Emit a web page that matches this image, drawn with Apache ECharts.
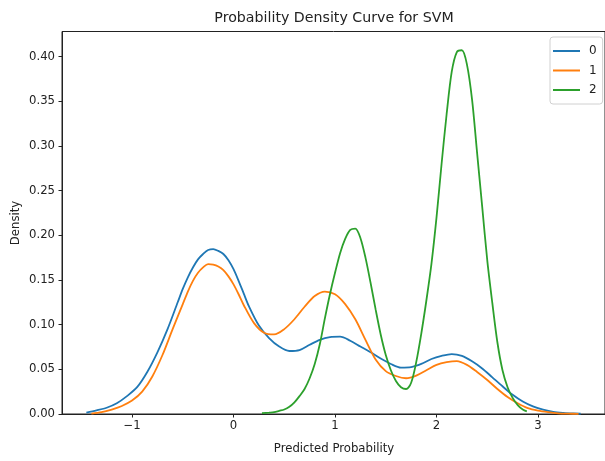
<!DOCTYPE html>
<html>
<head>
<meta charset="utf-8">
<script src="https://cdn.jsdelivr.net/npm/echarts@6/dist/echarts.min.js"></script>
<style>html,body{margin:0;padding:0;background:#fff}#c{width:605px;height:461px}</style>
</head>
<body>
<div id="c"></div>
<script>
var seriesNames = ['0', '1', '2'];
var xTicks = [-1, 0, 1, 2, 3];
var yTicks = [0, 0.05, 0.10, 0.15, 0.20, 0.25, 0.30, 0.35, 0.40];

var x0 = [-1.45,-1.35,-1.25,-1.15,-1.05,-0.95,-0.85,-0.75,-0.65,-0.55,-0.5,-0.45,-0.4,-0.35,-0.3,-0.25,-0.2,-0.15,-0.1,-0.05,0.0,0.05,0.1,0.15,0.25,0.35,0.45,0.55,0.65,0.75,0.85,0.95,1.05,1.15,1.25,1.35,1.45,1.55,1.65,1.75,1.85,1.95,2.05,2.15,2.25,2.35,2.45,2.55,2.65,2.75,2.85,2.95,3.05,3.15,3.25,3.35,3.42];
var y0 = [0.0015,0.004,0.007,0.012,0.020,0.030,0.047,0.069,0.095,0.125,0.140,0.153,0.164,0.173,0.179,0.1835,0.1845,0.1825,0.179,0.172,0.162,0.149,0.135,0.121,0.099,0.085,0.0755,0.0705,0.0715,0.0775,0.083,0.086,0.0865,0.082,0.0755,0.069,0.062,0.056,0.052,0.0525,0.056,0.0615,0.065,0.067,0.065,0.059,0.051,0.041,0.031,0.0215,0.014,0.0085,0.005,0.0025,0.0013,0.0006,0.0003];

var x1 = [-1.4,-1.3,-1.2,-1.1,-1.0,-0.9,-0.8,-0.7,-0.6,-0.5,-0.45,-0.4,-0.35,-0.3,-0.25,-0.2,-0.15,-0.1,-0.05,0.0,0.05,0.1,0.2,0.3,0.4,0.5,0.6,0.7,0.8,0.9,1.0,1.1,1.2,1.3,1.4,1.5,1.6,1.7,1.8,1.9,2.0,2.1,2.2,2.3,2.4,2.5,2.6,2.7,2.8,2.9,3.0,3.1,3.2,3.3,3.4];
var y1 = [0.0005,0.002,0.005,0.009,0.015,0.025,0.042,0.066,0.095,0.123,0.137,0.149,0.158,0.164,0.1678,0.1672,0.165,0.161,0.154,0.145,0.134,0.122,0.102,0.091,0.089,0.095,0.106,0.120,0.132,0.137,0.134,0.123,0.106,0.083,0.061,0.048,0.0425,0.040,0.043,0.049,0.055,0.058,0.0592,0.055,0.047,0.038,0.028,0.019,0.012,0.0065,0.0037,0.002,0.0008,0.0004,0.0002];

var x2 = [0.28,0.35,0.4,0.45,0.5,0.55,0.6,0.65,0.7,0.75,0.8,0.85,0.9,0.95,1.0,1.05,1.1,1.15,1.2,1.25,1.3,1.35,1.4,1.45,1.5,1.55,1.6,1.65,1.7,1.75,1.8,1.85,1.9,1.95,2.0,2.05,2.1,2.15,2.2,2.25,2.3,2.35,2.4,2.45,2.5,2.55,2.6,2.65,2.7,2.75,2.8,2.85,2.89];
var y2 = [0.001,0.0015,0.002,0.0035,0.005,0.008,0.013,0.020,0.028,0.040,0.056,0.078,0.107,0.134,0.158,0.180,0.196,0.206,0.2075,0.197,0.175,0.147,0.117,0.089,0.066,0.049,0.037,0.030,0.028,0.035,0.058,0.090,0.127,0.168,0.220,0.280,0.336,0.383,0.405,0.407,0.391,0.352,0.292,0.232,0.172,0.124,0.080,0.049,0.030,0.018,0.010,0.005,0.003];

var colors = ['#1f77b4', '#ff7f0e', '#2ca02c'];

function pairs(xs, ys) { return xs.map(function (x, i) { return [x, ys[i]]; }); }
var datasets = [pairs(x0, y0), pairs(x1, y1), pairs(x2, y2)];

var font = 'DejaVu Sans';
var chart = echarts.init(document.getElementById('c'), null, { renderer: 'canvas' });
chart.setOption({
  animation: false,
  backgroundColor: '#fff',
  grid: { left: 62, right: -2, top: 31.5, bottom: 47, show: true, borderColor: '#222', borderWidth: 1, backgroundColor: 'transparent' },
  xAxis: {
    type: 'value', min: -1.69, max: 3.66,
    axisLine: { show: true, onZero: false, lineStyle: { color: '#222', width: 1 } },
    axisTick: { show: true, length: 3.5, lineStyle: { color: '#222' }, customValues: xTicks },
    axisLabel: { customValues: xTicks, margin: 6, color: '#222', fontFamily: font, fontSize: 11.7,
      formatter: function (v) { return v < 0 ? '\u2212' + Math.abs(v) : String(v); } },
    splitLine: { show: false }
  },
  yAxis: {
    type: 'value', min: 0, max: 0.428,
    axisLine: { show: true, onZero: false, lineStyle: { color: '#222', width: 1 } },
    axisTick: { show: true, length: 3.5, lineStyle: { color: '#222' }, customValues: yTicks },
    axisLabel: { customValues: yTicks, margin: 7, color: '#222', fontFamily: font, fontSize: 11.7,
      formatter: function (v) { return v.toFixed(2); } },
    splitLine: { show: false }
  },
  legend: {
    orient: 'vertical', left: 550, top: 37,
    data: seriesNames,
    icon: 'rect', itemWidth: 27, itemHeight: 2, itemGap: 7.5,
    padding: [8, 6, 8, 3],
    backgroundColor: 'rgba(255,255,255,0.8)', borderColor: '#d0d0d0', borderWidth: 1, borderRadius: 3,
    textStyle: { color: '#222', fontFamily: font, fontSize: 12, padding: [0, 0, 0, 4] }
  },
  graphic: [
    { type: 'text', x: 334, y: 18, style: { text: 'Probability Density Curve for SVM', fill: '#222', font: '14.2px "DejaVu Sans"', textAlign: 'center', textVerticalAlign: 'middle' } },
    { type: 'text', x: 334, y: 449, style: { text: 'Predicted Probability', fill: '#222', font: '11.7px "DejaVu Sans"', textAlign: 'center', textVerticalAlign: 'middle' } },
    { type: 'text', x: 16, y: 223, rotation: Math.PI / 2, style: { text: 'Density', fill: '#222', font: '11.7px "DejaVu Sans"', textAlign: 'center', textVerticalAlign: 'middle' } }
  ],
  series: datasets.map(function (d, i) {
    return {
      name: seriesNames[i], type: 'line', data: d, smooth: 0.3, showSymbol: false, symbol: 'none',
      lineStyle: { color: colors[i], width: 1.8 }, itemStyle: { color: colors[i] }, clip: true
    };
  })
});
</script>
</body>
</html>
